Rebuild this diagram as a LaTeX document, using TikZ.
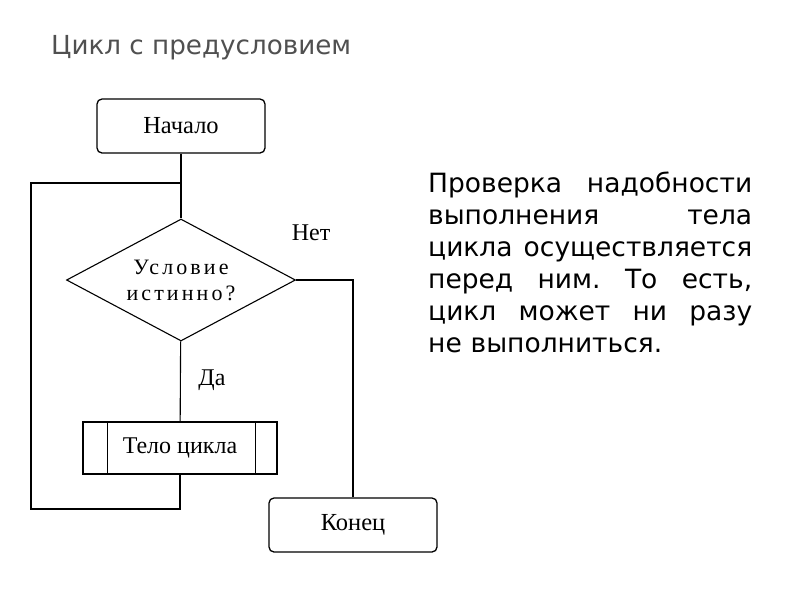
\documentclass[tikz,border=0pt]{standalone}
\usepackage{fontspec}
\setmainfont{Liberation Serif}
\newfontfamily\djv{DejaVu Sans}
\newfontfamily\widerm[LetterSpace=14]{Liberation Serif}
\usetikzlibrary{shapes.geometric}
\definecolor{titlegray}{HTML}{505050}
\begin{document}
\begin{tikzpicture}[x=1pt,y=-1pt,
  termbox/.style={draw,line width=1.3pt,rounded corners=5pt,minimum width=168pt,minimum height=54pt,inner sep=0pt,font=\fontsize{24.5}{26}\selectfont},
  condbox/.style={draw,line width=1.1pt,diamond,aspect=1.88,minimum width=229pt,minimum height=122pt,inner sep=0pt,align=center,font=\widerm\fontsize{22}{26}\selectfont},
  procbox/.style={draw,line width=1.5pt,minimum width=194pt,minimum height=52pt,inner sep=0pt,font=\fontsize{24}{26}\selectfont},
  link/.style={line width=1.1pt},
  loopline/.style={line width=1.5pt},
  lbl/.style={font=\fontsize{24}{26}\selectfont},
]
\fill[white] (0,0) rectangle (800,600);
\useasboundingbox (0,0) rectangle (800,600);

\node[anchor=base west,text=titlegray,font=\djv\fontsize{26.2}{28}\selectfont,inner sep=0pt] (title) at (51,54) {Цикл с предусловием};

\node[termbox] (start) at (181,126) {Начало};
\node[condbox] (cond) at (181,280) {Условие\\истинно?};
\node[procbox] (body) at (180,448) {Тело цикла};
\node[termbox] (end) at (353,525) {Конец};

\draw[line width=1pt] ([xshift=25pt]body.north west) -- ([xshift=25pt]body.south west);
\draw[line width=1pt] ([xshift=-22pt]body.north east) -- ([xshift=-22pt]body.south east);

\coordinate (j) at (181,183);
\coordinate (lt) at (31,183);
\coordinate (lb) at (31,509);
\coordinate (bb) at (180,509);

\draw[link] (start) -- (cond);
\draw[link] (cond) -- (body);
\draw[loopline] (body.south) -- (bb) -- (lb) -- (lt) -- (j);
\draw[link] (cond.east) -| (end.north);

\node[lbl] (no) at (311,233) {Нет};
\node[lbl] (yes) at (212,380) {Да};

\node[anchor=north west,inner sep=0pt,text width=324pt,align=left,font=\djv\fontsize{26.5}{32}\selectfont] (txt) at (428,171.5) {%
\makebox[324pt]{Проверка\hfill надобности}\\
\makebox[324pt]{выполнения\hfill тела}\\
\makebox[324pt]{цикла\hfill осуществляется}\\
\makebox[324pt]{перед\hfill ним.\hfill То\hfill есть,}\\
\makebox[324pt]{цикл\hfill может\hfill ни\hfill разу}\\
не выполниться.};
\end{tikzpicture}
\end{document}
